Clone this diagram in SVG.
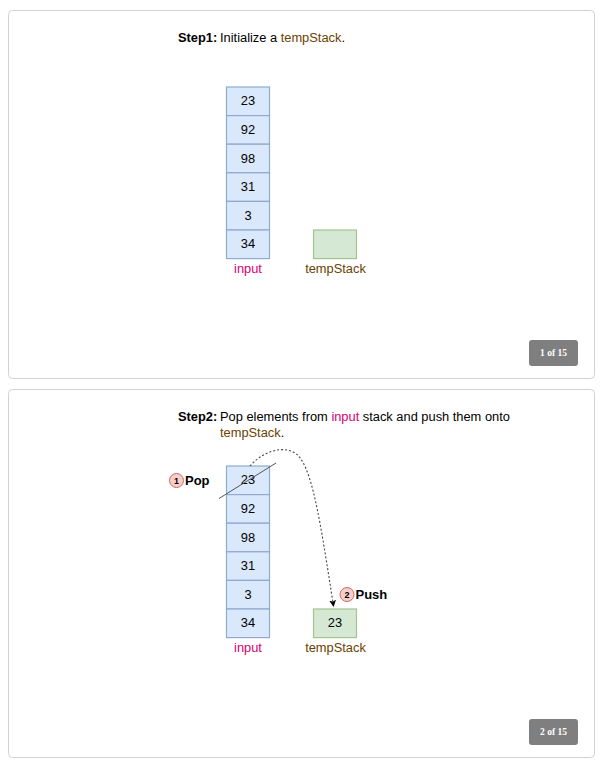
<svg xmlns="http://www.w3.org/2000/svg" width="600" height="764" viewBox="0 0 600 764">
<defs>
<marker id="arrow" markerWidth="8" markerHeight="8" refX="6" refY="3.500" orient="auto" markerUnits="userSpaceOnUse"><path d="M0 0L7 3.500L0 7L1.800 3.500Z" fill="#000"/></marker>
</defs>
<style>
text{font-family:"Liberation Sans",Arial,sans-serif;font-size:12.850px;fill:#000}
.c{text-anchor:middle}
.card{fill:#fff;stroke:#d2d2d2;stroke-width:1}
.in{fill:#dae8fc;stroke:#8fa9cf;stroke-width:1.200}
.tmp{fill:#d5e8d4;stroke:#a3c48f;stroke-width:1.200}
.b{font-weight:bold}
.pink{fill:#d80073}
.brown{fill:#6a4200}
.badge{fill:#7f7f7f}
.bt{font-family:"Liberation Serif",serif;font-size:9.500px;font-weight:bold;fill:#fff;text-anchor:middle}
.num{fill:#f8cecc;stroke:#c96a66;stroke-width:1}
.nt{font-size:9px;font-weight:bold;text-anchor:middle}
.lab{font-size:13px;font-weight:bold}
</style>
<g id="panel1">
<rect class="card" x="8.500" y="10.500" width="586" height="368" rx="4"/>
<text x="178" y="42" class="b">Step1:</text>
<text x="220" y="42">Initialize a <tspan class="brown">tempStack</tspan>.</text>
<g id="p1-input">
<rect class="in" x="226.500" y="87" width="43" height="28.600"/><text class="c" x="248" y="105">23</text>
<rect class="in" x="226.500" y="115.600" width="43" height="28.600"/><text class="c" x="248" y="134">92</text>
<rect class="in" x="226.500" y="144.200" width="43" height="28.600"/><text class="c" x="248" y="163">98</text>
<rect class="in" x="226.500" y="172.800" width="43" height="28.600"/><text class="c" x="248" y="191">31</text>
<rect class="in" x="226.500" y="201.400" width="43" height="28.600"/><text class="c" x="248" y="220">3</text>
<rect class="in" x="226.500" y="230" width="43" height="28.600"/><text class="c" x="248" y="248">34</text>
<text class="c pink" x="248" y="273">input</text>
</g>
<g id="p1-temp">
<rect class="tmp" x="313.500" y="230" width="43" height="28.600"/>
<text class="c brown" x="335.500" y="273">tempStack</text>
</g>
<g id="p1-badge">
<rect class="badge" x="529" y="340" width="49" height="26" rx="3"/>
<text class="bt" x="553.500" y="356">1 of 15</text>
</g>
</g>
<g id="panel2">
<rect class="card" x="8.500" y="389.500" width="586" height="368" rx="4"/>
<text x="178" y="421" class="b">Step2:</text>
<text x="220" y="421">Pop elements from <tspan class="pink">input</tspan> stack and push them onto</text>
<text x="220" y="437"><tspan class="brown">tempStack</tspan>.</text>
<g id="p2-input">
<rect class="in" x="226.500" y="466" width="43" height="28.600"/><text class="c" x="248" y="484">23</text>
<rect class="in" x="226.500" y="494.600" width="43" height="28.600"/><text class="c" x="248" y="513">92</text>
<rect class="in" x="226.500" y="523.200" width="43" height="28.600"/><text class="c" x="248" y="542">98</text>
<rect class="in" x="226.500" y="551.800" width="43" height="28.600"/><text class="c" x="248" y="570">31</text>
<rect class="in" x="226.500" y="580.400" width="43" height="28.600"/><text class="c" x="248" y="599">3</text>
<rect class="in" x="226.500" y="609" width="43" height="28.600"/><text class="c" x="248" y="627">34</text>
<text class="c pink" x="248" y="652">input</text>
</g>
<g id="p2-temp">
<rect class="tmp" x="313.500" y="609" width="43" height="28.600"/>
<text class="c" x="335" y="627">23</text>
<text class="c brown" x="335.500" y="652">tempStack</text>
</g>
<g id="p2-pop">
<circle class="num" cx="176.500" cy="480.500" r="7"/>
<text class="nt" x="176.500" y="483.700">1</text>
<text class="lab" x="185" y="485">Pop</text>
</g>
<g id="p2-push">
<circle class="num" cx="347" cy="594.500" r="7"/>
<text class="nt" x="347" y="597.700">2</text>
<text class="lab" x="355.500" y="599">Push</text>
</g>
<g id="p2-badge">
<rect class="badge" x="529" y="719" width="49" height="26" rx="3"/>
<text class="bt" x="553.500" y="735">2 of 15</text>
</g>
</g>
<g id="connectors">
<path d="M219 498.500L276 463" fill="none" stroke="#555" stroke-width="1"/>
<path d="M250 466C262 452 282 445 295 453C312 464 320 520 333.500 606" fill="none" stroke="#444" stroke-width="1.100" stroke-dasharray="2 2" marker-end="url(#arrow)"/>
</g>
</svg>
